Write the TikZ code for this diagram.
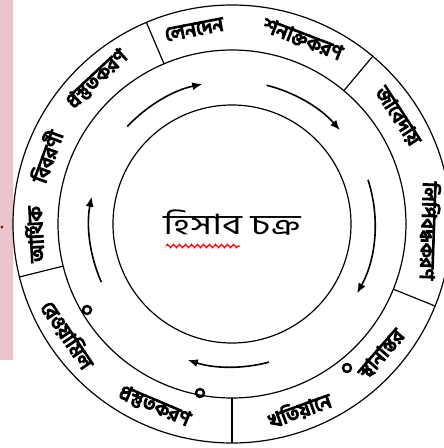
\documentclass[tikz,border=0pt]{standalone}
\usepackage{fontspec}
\newfontfamily\bnfont[Script=Bengali]{Hind Siliguri}
\newfontfamily\bnheavy[Script=Bengali, FakeBold=6]{Hind Siliguri}
\usetikzlibrary{arrows.meta,decorations.pathmorphing}
\definecolor{scanpink}{RGB}{233,196,200}
\tikzset{
  bandword/.style={font=\bnheavy\fontsize{20}{22}\selectfont, inner sep=0pt},
  cyclearrow/.style={line width=1.6pt, -{Latex[length=10pt,width=8pt]}},
  knot/.style={line width=2.4pt}
}
\begin{document}
\begin{tikzpicture}[x=1pt, y=1pt, line width=1.2pt]
  \useasboundingbox (-232,-224) rectangle (212,224);
  \fill[scanpink] (-232,224) rectangle (-219,-136);
  \fill[red!45!black] (-230,-3) circle (1.5);
  \draw (0,0) circle (119);
  \draw (0,0) circle (174);
  \draw (0,0) circle (219);
  \foreach \a in {113,50,-22,-90,194}
    \draw (\a:174) -- (\a:219);
  \foreach \s/\e in {137/102, 76/41, 18/-29, -75/-108, 204/169}
    \draw[cyclearrow] (\s:143) arc[start angle=\s, end angle=\e, radius=143];
  \foreach \p in {(-145,-86), (-32,-169), (115,-144)}
    \draw[knot] \p circle (4);
  \node[font=\bnfont\fontsize{28}{32}\selectfont] (title) at (0,1) {\scalebox{1.35}[1]{হিসাব চক্র}};
  \draw[red, line width=1.3pt, decorate, decoration={zigzag, segment length=6, amplitude=1.6}] (-66,-22) -- (8,-22);
  \foreach \a/\w in {101/লেনদেন, 69/শনাক্তকরণ, 33/জাবেদায়, -2/লিপিবদ্ধকরণ, 183/আর্থিক, 160/বিবরণী, 133/প্রস্তুতকরণ}
    \node[bandword, rotate=\a-90] (word\a) at (\a:198) {\w};
  \foreach \a/\w in {-70/খতিয়ানে, -41/স্থানান্তর, -146/রেওয়ামিল, -113/প্রস্তুতকরণ}
    \node[bandword, rotate=\a+90] (word\a) at (\a:198) {\w};
\end{tikzpicture}
\end{document}
